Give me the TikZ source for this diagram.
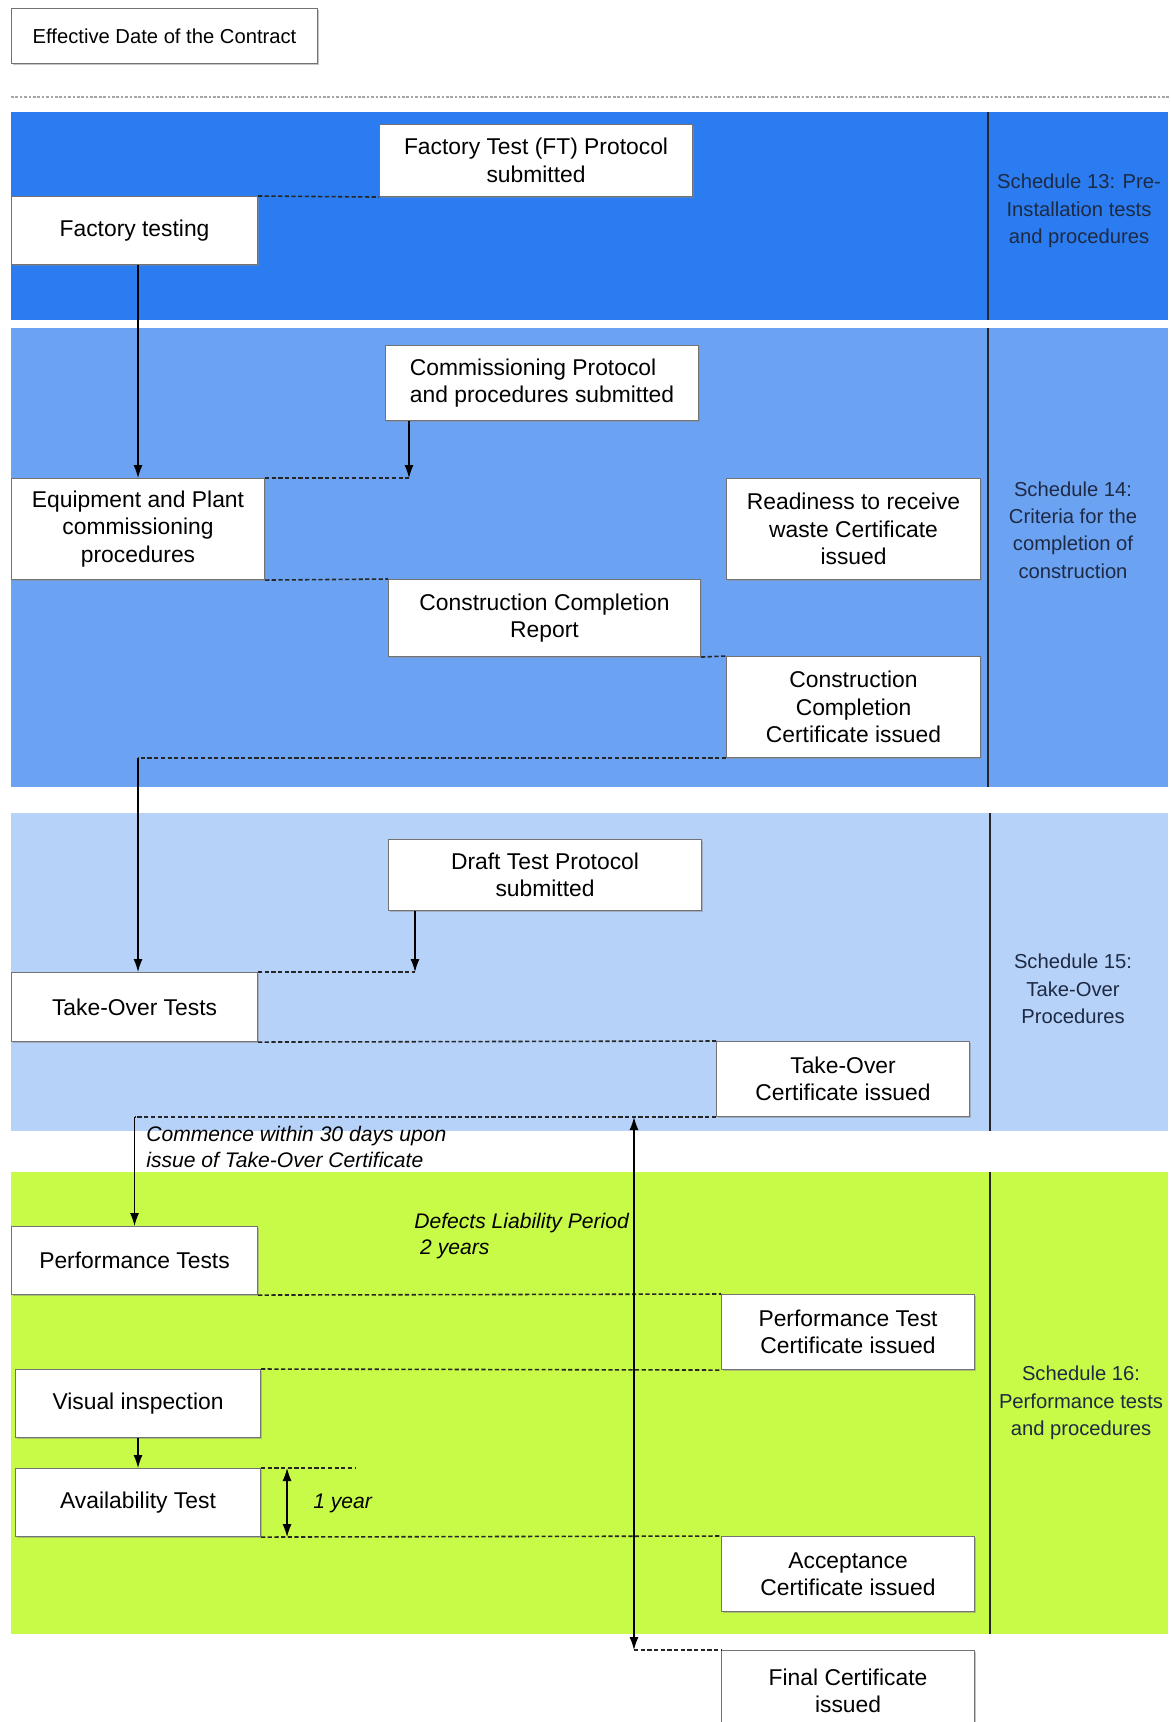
\documentclass[tikz,border=0pt]{standalone}
\usepackage{fontspec}
\setmainfont{Liberation Sans}
\usepackage{xcolor}
\usepackage{tikz}
\usetikzlibrary{arrows.meta,positioning,calc,shadows}
\definecolor{bandone}{HTML}{2B7CF0}
\definecolor{bandtwo}{HTML}{6CA2F2}
\definecolor{bandthree}{HTML}{B6D2F8}
\definecolor{bandfour}{HTML}{C8FA48}
\definecolor{schedcol}{HTML}{1E2A44}
\newcommand{\boxfont}{\fontsize{13}{15.6}\selectfont}
\newcommand{\schedfont}{\fontsize{11.5}{15.6}\selectfont}
\newcommand{\notefont}{\fontsize{12}{15.2}\selectfont\itshape}

\begin{document}
\begin{tikzpicture}[x=0.2mm, y=-0.2mm,
  pbox/.style={draw=black!55, fill=white, line width=0.6pt, align=center, font=\boxfont,
    anchor=north west, inner sep=2pt,
    drop shadow={shadow xshift=0.7pt, shadow yshift=-0.7pt, fill=black!45}},
  sched/.style={align=center, font=\schedfont, text=schedcol, inner sep=0pt},
  lbl/.style={align=left, font=\notefont, inner sep=0pt, anchor=west},
  dline/.style={dash pattern=on 2.4pt off 1.4pt, line width=0.9pt, draw=black!85},
  arr/.style={-{Latex[length=2.6mm, width=1.8mm]}, line width=0.7pt},
  darr/.style={{Latex[length=2.6mm, width=1.8mm]}-{Latex[length=2.6mm, width=1.8mm]}, line width=0.7pt},
  sep/.style={line width=0.8pt, draw=black!85}
]
  \useasboundingbox (0,0) rectangle (1170,1722);
  \clip (0,0) rectangle (1170,1722);

  % bands
  \fill[bandone] (11,112) rectangle (1168,320);
  \fill[bandtwo] (11,328) rectangle (1168,787);
  \fill[bandthree] (11,813) rectangle (1168,1131);
  \fill[bandfour] (11,1172) rectangle (1168,1634);
  \draw[sep] (988,112) -- (988,320);
  \draw[sep] (988,328) -- (988,787);
  \draw[sep] (990,813) -- (990,1131);
  \draw[sep] (990,1172) -- (990,1634);
  \draw[gray!70, dash pattern=on 1.5pt off 1pt, line width=0.8pt] (11,97) -- (1170,97);

  % schedules
  \node[sched] (s13) at (1079,211) {Schedule 13: Pre-\\Installation tests\\and procedures};
  \node[sched] (s14) at (1073,530) {Schedule 14:\\Criteria for the\\completion of\\construction};
  \node[sched] (s15) at (1073,989) {Schedule 15:\\Take-Over\\Procedures};
  \node[sched] (s16) at (1081,1403) {Schedule 16:\\Performance tests\\and procedures};

  % start
  \node[pbox, minimum width=61.2mm, minimum height=11mm, font=\fontsize{11.5}{14}\selectfont] (eff) at (11,8) {Effective Date of the Contract};

  % Schedule 13
  \node[pbox, minimum width=62.6mm, minimum height=14.4mm] (ftp) at (379,124) {Factory Test (FT) Protocol\\submitted};
  \node[pbox, minimum width=49.2mm, minimum height=13.6mm] (ft) at (11,196) {Factory testing};

  % Schedule 14
  \node[pbox, minimum width=62.6mm, minimum height=15mm, align=left] (cp) at (385,345) {Commissioning Protocol\\and procedures submitted};
  \node[pbox, minimum width=50.6mm, minimum height=20.2mm] (eq) at (11,478) {Equipment and Plant\\commissioning\\procedures};
  \node[pbox, minimum width=50.8mm, minimum height=20.2mm] (rd) at (726,478) {Readiness to receive\\waste Certificate\\issued};
  \node[pbox, minimum width=62.4mm, minimum height=15.4mm] (ccr) at (388,579) {Construction Completion\\Report};
  \node[pbox, minimum width=50.8mm, minimum height=20.2mm] (ccc) at (726,656) {Construction\\Completion\\Certificate issued};

  % Schedule 15
  \node[pbox, minimum width=62.6mm, minimum height=14.2mm] (dtp) at (388,839) {Draft Test Protocol\\submitted};
  \node[pbox, minimum width=49.2mm, minimum height=13.8mm] (tot) at (11,972) {Take-Over Tests};
  \node[pbox, minimum width=50.6mm, minimum height=15mm] (toc) at (716,1041) {Take-Over\\Certificate issued};

  % Schedule 16
  \node[pbox, minimum width=49.2mm, minimum height=13.6mm] (pt) at (11,1226) {Performance Tests};
  \node[pbox, minimum width=50.6mm, minimum height=15mm] (ptc) at (721,1294) {Performance Test\\Certificate issued};
  \node[pbox, minimum width=49mm, minimum height=13.6mm] (vi) at (15,1369) {Visual inspection};
  \node[pbox, minimum width=49mm, minimum height=13.6mm] (avt) at (15,1468) {Availability Test};
  \node[pbox, minimum width=50.6mm, minimum height=15mm] (ac) at (721,1536) {Acceptance\\Certificate issued};
  \node[pbox, minimum width=50.6mm, minimum height=16mm] (fc) at (721,1650) {Final Certificate\\issued};

  % notes
  \node[lbl] (commence) at (146,1147) {Commence within 30 days upon\\issue of Take-Over Certificate};
  \node[lbl] (dlp) at (414,1236) {Defects Liability Period\\~2 years};
  \node[lbl] (oneyr) at (313,1503) {1 year};

  % turning points
  \coordinate (cpfoot) at ($(cp.south west)+(24,0)$);
  \coordinate (cpend) at (cpfoot |- eq.north);
  \coordinate (turn1) at (eq.north |- ccc.south);
  \coordinate (totin) at (turn1 |- tot.north);
  \coordinate (dtpfoot) at ($(dtp.south west)+(27,0)$);
  \coordinate (dtpend) at (dtpfoot |- tot.north);
  \coordinate (turn2) at (pt.north |- toc.south);
  \coordinate (yrtop) at ($(avt.north east)+(26,0)$);
  \coordinate (yrbot) at ($(avt.south east)+(26,0)$);
  \coordinate (yrend) at ($(avt.north east)+(94,0)$);
  \coordinate (dlptop) at ($(toc.south west)+(-82,0)$);
  \coordinate (dlpbot) at (dlptop |- fc.north);

  % connectors
  \draw[dline] (ft.north east) -- (ftp.south west);
  \draw[arr] (eq.north |- ft.south) -- (eq.north);
  \draw[arr] (cpfoot) -- (cpend);
  \draw[dline] (eq.north east) -- (cpend);
  \draw[dline] (eq.south east) -- (ccr.north west);
  \draw[dline] (ccr.south east) -- (ccc.north west);
  \draw[dline] (ccc.south west) -- (turn1);
  \draw[arr] (turn1) -- (totin);
  \draw[arr] (dtpfoot) -- (dtpend);
  \draw[dline] (tot.north east) -- (dtpend);
  \draw[dline] (tot.south east) -- (toc.north west);
  \draw[dline] (toc.south west) -- (turn2);
  \draw[arr] (turn2) -- (pt.north);
  \draw[dline] (pt.south east) -- (ptc.north west);
  \draw[dline] (vi.north east) -- (ptc.south west);
  \draw[arr] (vi.south) -- (avt.north);
  \draw[dline] (avt.north east) -- (yrend);
  \draw[darr] (yrtop) -- (yrbot);
  \draw[dline] (avt.south east) -- (ac.north west);
  \draw[darr] (dlptop) -- (dlpbot);
  \draw[dline] (dlpbot) -- (fc.north west);
\end{tikzpicture}
\end{document}
